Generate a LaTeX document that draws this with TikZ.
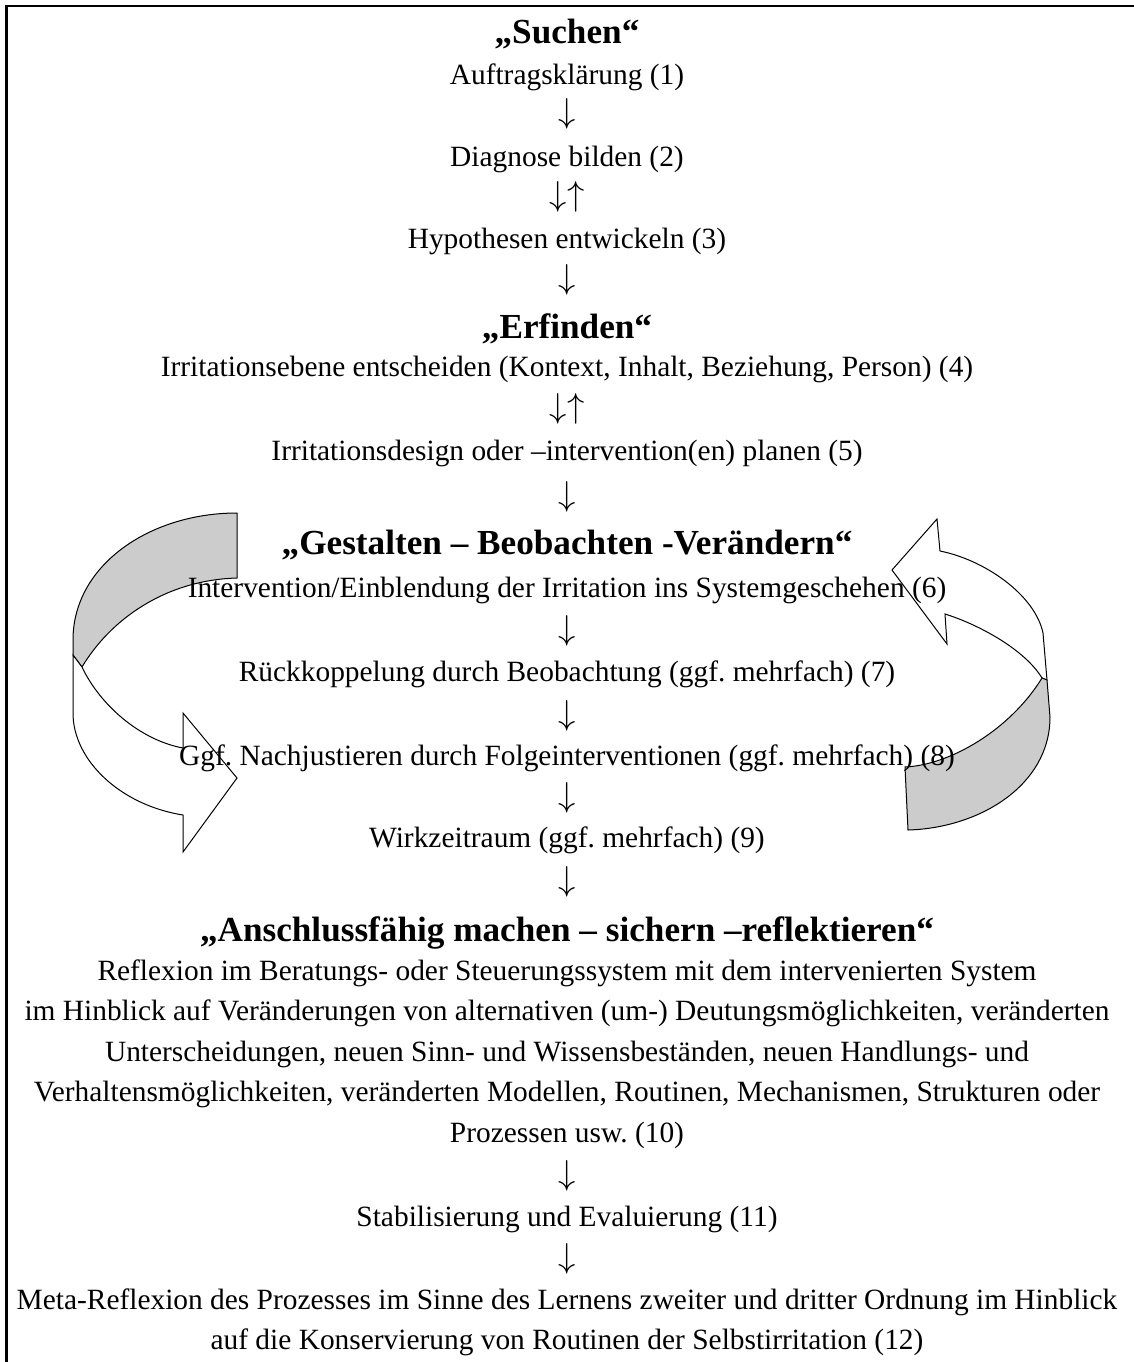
\documentclass[tikz,border=0pt]{standalone}
\usepackage{fontspec}
\setmainfont{Liberation Serif}
\frenchspacing
\begin{document}
\begin{tikzpicture}[x=0.5pt,y=-0.5pt,
  txt/.style={font=\fontsize{14.7}{17}\selectfont, inner sep=0pt, anchor=base},
  head/.style={font=\fontsize{17.6}{20}\selectfont\bfseries, inner sep=0pt, anchor=base},
  sym/.style={font=\fontsize{17}{19}\selectfont, inner sep=0pt, anchor=center},
  band/.style={draw=black, line width=0.5pt, line join=miter},
  back/.style={band, fill=black!20},
  front/.style={band, fill=white},
  ]
\useasboundingbox (0,0) rectangle (1134,1362);
% frame: top and left rules
\draw[line width=1.2pt] (6.5,1362) -- (6.5,6) -- (1134,6);

% left loop arrow
\path[back] (237,513) .. controls (150,513) and (73,565) .. (73,640) -- (73,655)
  -- (82,667) .. controls (110,620) and (165,580) .. (237,578) -- cycle;
\path[front] (82,667) .. controls (100,705) and (140,740) .. (183,748) -- (183,713)
  -- (237,778) -- (183,852) -- (183,815) .. controls (120,805) and (73,760) .. (73,713)
  -- (73,655) -- cycle;

% right loop arrow
\path[front] (940,551) .. controls (985,560) and (1035,595) .. (1043,633) -- (1047,680)
  -- (1042,678) .. controls (1025,650) and (980,625) .. (945,614) -- (947,644)
  -- (892,570) -- (937,519) -- cycle;
\path[back] (1042,678) .. controls (1010,730) and (950,765) .. (905,767) -- (908,830)
  .. controls (980,828) and (1050,785) .. (1050,717) -- (1047,680) -- cycle;

% text column
\node[head] (h1) at (567,43) {„Suchen“};
\node[txt] (s1) at (567,84) {Auftragsklärung (1)};
\node[sym] (a1) at (567,114) {$\downarrow$};
\node[txt] (s2) at (567,166) {Diagnose bilden (2)};
\node[sym] (a2) at (567,197) {$\downarrow\uparrow$};
\node[txt] (s3) at (567,248) {Hypothesen entwickeln (3)};
\node[sym] (a3) at (567,280) {$\downarrow$};
\node[head] (h2) at (567,338) {„Erfinden“};
\node[txt] (s4) at (567,376) {Irritationsebene entscheiden (Kontext, Inhalt, Beziehung, Person) (4)};
\node[sym] (a4) at (567,409) {$\downarrow\uparrow$};
\node[txt] (s5) at (567,460) {Irritationsdesign oder –intervention(en) planen (5)};
\node[sym] (a5) at (567,497) {$\downarrow$};
\node[head] (h3) at (567,554) {„Gestalten – Beobachten -Verändern“};
\node[txt] (s6) at (567,597) {Intervention/Einblendung der Irritation ins Systemgeschehen (6)};
\node[sym] (a6) at (567,631) {$\downarrow$};
\node[txt] (s7) at (567,681) {Rückkoppelung durch Beobachtung (ggf. mehrfach) (7)};
\node[sym] (a7) at (567,716) {$\downarrow$};
\node[txt] (s8) at (567,765) {Ggf. Nachjustieren durch Folgeinterventionen (ggf. mehrfach) (8)};
\node[sym] (a8) at (567,798) {$\downarrow$};
\node[txt] (s9) at (567,847) {Wirkzeitraum (ggf. mehrfach) (9)};
\node[sym] (a9) at (567,882) {$\downarrow$};
\node[head] (h4) at (567,941) {„Anschlussfähig machen – sichern –reflektieren“};
\node[txt] (r1) at (567,980) {Reflexion im Beratungs- oder Steuerungssystem mit dem intervenierten System};
\node[txt] (r2) at (567,1020) {im Hinblick auf Veränderungen von alternativen (um-) Deutungsmöglichkeiten, veränderten};
\node[txt] (r3) at (567,1061) {Unterscheidungen, neuen Sinn- und Wissensbeständen, neuen Handlungs- und};
\node[txt] (r4) at (567,1101) {Verhaltensmöglichkeiten, veränderten Modellen, Routinen, Mechanismen, Strukturen oder};
\node[txt] (r5) at (567,1142) {Prozessen usw. (10)};
\node[sym] (a10) at (567,1176) {$\downarrow$};
\node[txt] (s11) at (567,1226) {Stabilisierung und Evaluierung (11)};
\node[sym] (a11) at (567,1259) {$\downarrow$};
\node[txt] (m1) at (567,1309) {Meta-Reflexion des Prozesses im Sinne des Lernens zweiter und dritter Ordnung im Hinblick};
\node[txt] (m2) at (567,1349) {auf die Konservierung von Routinen der Selbstirritation (12)};
\end{tikzpicture}
\end{document}
